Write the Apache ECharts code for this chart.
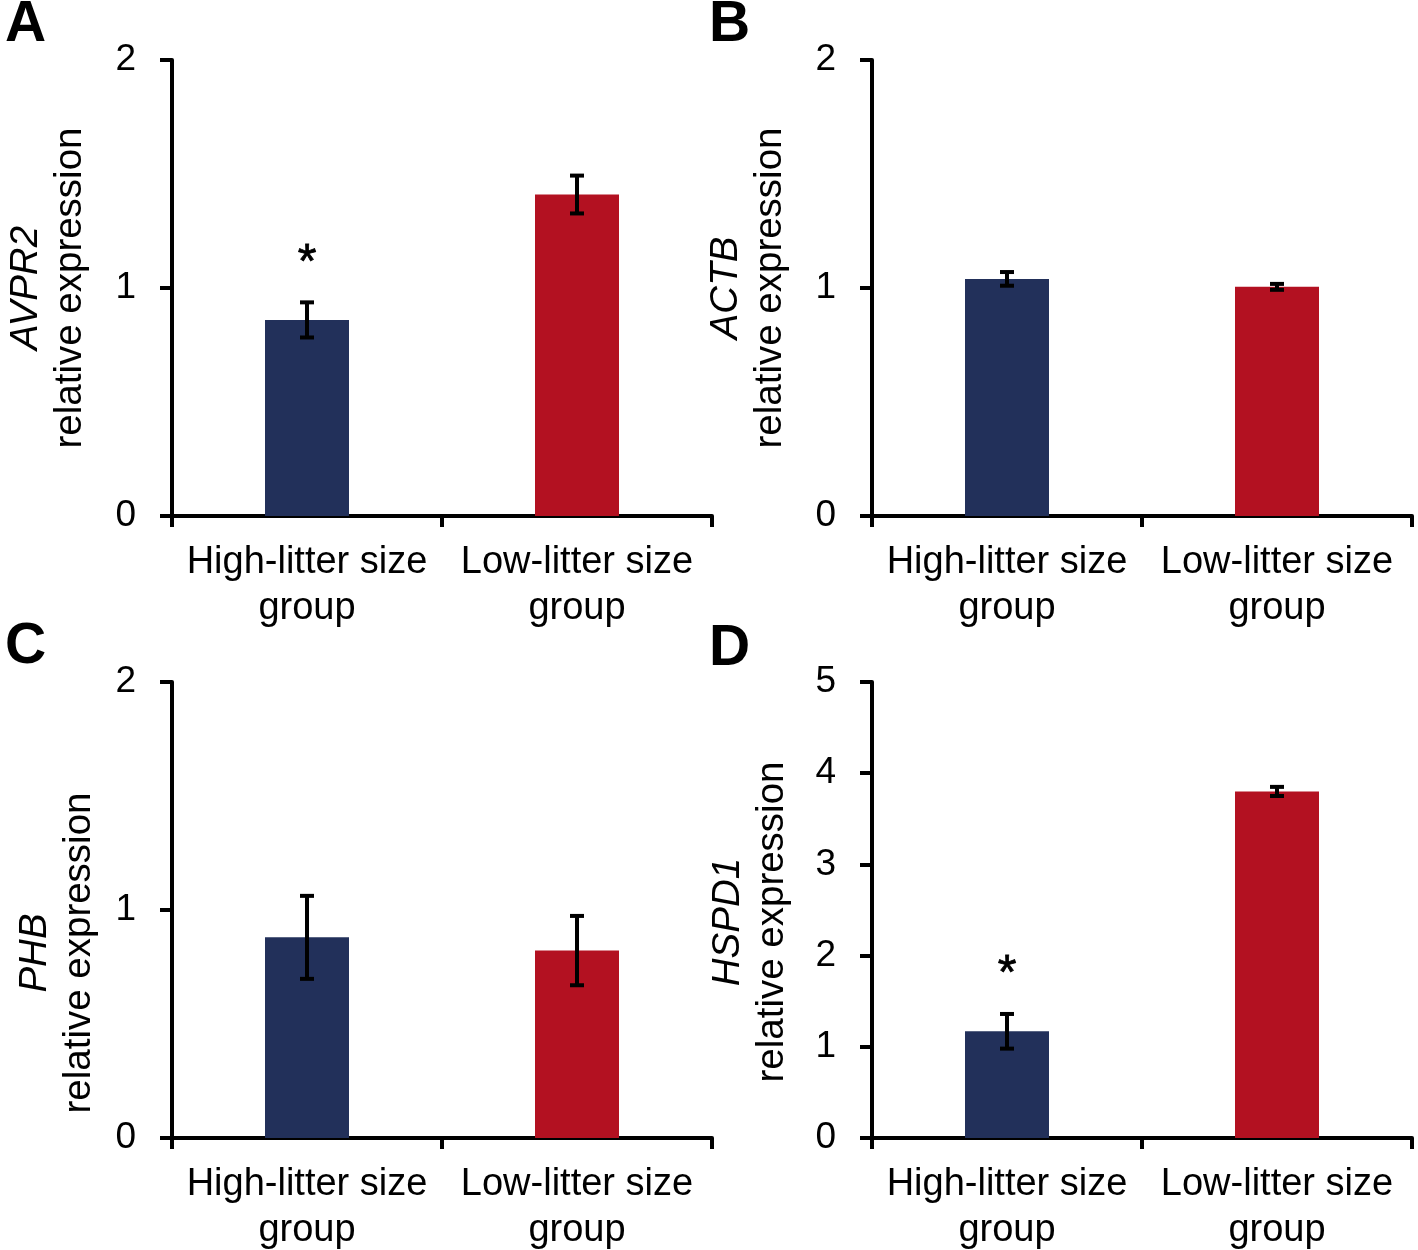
<!DOCTYPE html>
<html>
<head>
<meta charset="utf-8">
<script src="https://cdn.jsdelivr.net/npm/echarts@6/dist/echarts.min.js"></script>
<style>
  html, body { margin: 0; padding: 0; background: #fff; }
  #chart { width: 1418px; height: 1250px; }
</style>
</head>
<body>
<div id="chart"></div>
<script>
/* ── Data ───────────────────────────────────────────────── */
const categories = ['High-litter size\ngroup', 'Low-litter size\ngroup'];
const barColors = ['#22305a', '#b31121'];

const genes = ['AVPR2', 'ACTB', 'PHB', 'HSPD1'];
const letters = ['A', 'B', 'C', 'D'];
const yMax = [2, 2, 2, 5];

const avpr2Mean = [0.86, 1.41];
const avpr2Err = [0.077, 0.083];
const actbMean = [1.04, 1.005];
const actbErr = [0.03, 0.013];
const phbMean = [0.88, 0.822];
const phbErr = [0.182, 0.152];
const hspd1Mean = [1.17, 3.80];
const hspd1Err = [0.19, 0.05];

const avpr2Sig = ['*', ''];
const actbSig = ['', ''];
const phbSig = ['', ''];
const hspd1Sig = ['*', ''];

const means = [avpr2Mean, actbMean, phbMean, hspd1Mean];
const errs = [avpr2Err, actbErr, phbErr, hspd1Err];
const sigs = [avpr2Sig, actbSig, phbSig, hspd1Sig];

/* ── Layout ─────────────────────────────────────────────── */
const FONT = '"Liberation Sans", Arial, Helvetica, sans-serif';
const panels = [
  { left: 172, top: 60 },
  { left: 872, top: 60 },
  { left: 172, top: 682 },
  { left: 872, top: 682 }
];
const letterPos = [
  { left: 0, top: -8 },
  { left: 704, top: -8 },
  { left: 0, top: 614 },
  { left: 704, top: 616 }
];
// y-axis titles are not all centred on their axis in the original
const nameGaps = [80, 80, 71, 78];
const nameShift = [0, 0, 86, 24];   // extra padding -> pushes title down

const chart = echarts.init(document.getElementById('chart'), null, { renderer: 'canvas' });

const grids = [], xAxes = [], yAxes = [], series = [], titles = [];

panels.forEach((p, i) => {
  grids.push({
    left: p.left, top: p.top, width: 540, height: 456,
    containLabel: false, outerBoundsMode: 'none'
  });

  titles.push({
    text: letters[i],
    left: letterPos[i].left,
    top: letterPos[i].top,
    textStyle: { fontFamily: FONT, fontSize: 57, fontWeight: 'bold', color: '#000' }
  });

  xAxes.push({
    type: 'category',
    gridIndex: i,
    data: categories,
    axisLine: { lineStyle: { color: '#000', width: 4 } },
    axisTick: { show: true, length: 11, lineStyle: { color: '#000', width: 4 } },
    axisLabel: {
      interval: 0,
      color: '#000', fontFamily: FONT, fontSize: 38, lineHeight: 46, margin: 24
    }
  });

  yAxes.push({
    type: 'value',
    gridIndex: i,
    min: 0,
    max: yMax[i],
    interval: 1,
    splitLine: { show: false },
    axisLine: { show: true, lineStyle: { color: '#000', width: 4 } },
    axisTick: { show: true, length: 12, lineStyle: { color: '#000', width: 4 } },
    axisLabel: { color: '#000', fontFamily: FONT, fontSize: 37, margin: 36 },
    name: '{g|' + genes[i] + '}\nrelative expression',
    nameLocation: 'middle',
    nameRotate: 90,
    nameGap: nameGaps[i],
    nameTextStyle: {
      color: '#000', fontFamily: FONT, fontSize: 38.5, lineHeight: 44,
      padding: [0, nameShift[i], 0, 0],
      rich: {
        g: { fontFamily: FONT, fontSize: 38.5, fontStyle: 'italic', lineHeight: 44, color: '#000' }
      }
    }
  });

  series.push({
    type: 'bar',
    xAxisIndex: i,
    yAxisIndex: i,
    barWidth: 84,
    data: means[i].map((v, k) => ({ value: v, itemStyle: { color: barColors[k] } })),
    silent: true
  });

  const sig = sigs[i];
  series.push({
    type: 'custom',
    xAxisIndex: i,
    yAxisIndex: i,
    silent: true,
    z: 5,
    data: means[i].map((m, k) => [k, m - errs[i][k], m + errs[i][k]]),
    encode: { x: 0, y: [1, 2] },
    renderItem(params, api) {
      const k = api.value(0);
      const top = api.coord([k, api.value(2)]);
      const bot = api.coord([k, api.value(1)]);
      const cap = 7;
      const st = { stroke: '#000', lineWidth: 4 };
      const children = [
        { type: 'line', shape: { x1: top[0], y1: top[1], x2: bot[0], y2: bot[1] }, style: st },
        { type: 'line', shape: { x1: top[0] - cap, y1: top[1], x2: top[0] + cap, y2: top[1] }, style: st },
        { type: 'line', shape: { x1: bot[0] - cap, y1: bot[1], x2: bot[0] + cap, y2: bot[1] }, style: st }
      ];
      const mark = sig[params.dataIndex];
      if (mark) {
        children.push({
          type: 'text',
          x: top[0],
          y: top[1] - 39,
          style: {
            text: mark, fill: '#000', font: '48px ' + FONT,
            align: 'center', verticalAlign: 'middle',
            stroke: '#000', lineWidth: 0.8
          }
        });
      }
      return { type: 'group', children };
    }
  });
});

chart.setOption({
  animation: false,
  backgroundColor: '#fff',
  textStyle: { fontFamily: FONT },
  title: titles,
  grid: grids,
  xAxis: xAxes,
  yAxis: yAxes,
  series: series
});

window.addEventListener('resize', () => chart.resize());
</script>
</body>
</html>
